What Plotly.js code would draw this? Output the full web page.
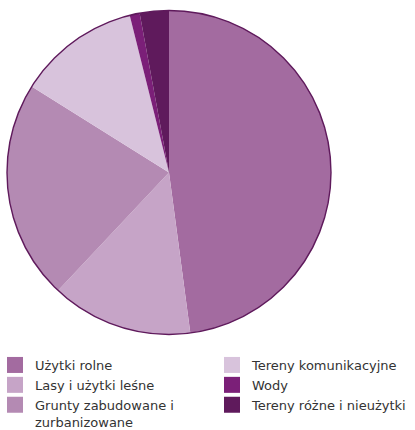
<!DOCTYPE html>
<html>
<head>
<meta charset="utf-8">
<script src="https://cdn.plot.ly/plotly-3.0.1.min.js"></script>
<style>
  html, body { margin: 0; padding: 0; background: #fff; }
  #chart { width: 415px; height: 430px; }
</style>
</head>
<body>
<div id="chart"></div>
<script>
// categories in pie order (clockwise from 12 o'clock)
var labels = ['Użytki rolne', 'Lasy i użytki leśne', 'Grunty zabudowane i<br>zurbanizowane',
              'Tereny komunikacyjne', 'Wody', 'Tereny różne i nieużytki'];
var shares = [47.9, 14.1, 21.9, 12.2, 1.0, 2.9];
var colors = ['#a36ba0', '#c6a4c7', '#b48ab3', '#d8c3dc', '#7b1f78', '#5f1a5c'];

// which legend column each category goes in
var legendCol = ['legend', 'legend', 'legend', 'legend2', 'legend2', 'legend2'];

var pieDomain = {x: [7 / 415, 331 / 415], y: [1 - 334.5 / 430, 1 - 10.5 / 430]};

var data = [{
  type: 'pie',
  labels: labels,
  values: shares,
  sort: false,
  direction: 'clockwise',
  rotation: 0,
  marker: {colors: colors, line: {width: 0}},
  textinfo: 'none',
  hoverinfo: 'label+percent',
  showlegend: false,
  domain: pieDomain
}, {
  // dark rim around the whole pie
  type: 'pie',
  labels: ['rim'],
  values: [1],
  marker: {colors: ['rgba(0,0,0,0)'], line: {color: '#5f1a5c', width: 1.4}},
  textinfo: 'none',
  hoverinfo: 'skip',
  showlegend: false,
  domain: pieDomain
}];

// legend entries (pie slices can't be split across two legend columns)
labels.forEach(function (lab, i) {
  data.push({
    type: 'scatter',
    mode: 'markers',
    x: [null],
    y: [null],
    name: lab,
    legend: legendCol[i],
    marker: {symbol: 'square', size: 16, color: colors[i]},
    showlegend: true
  });
});

var legendBase = {
  orientation: 'v',
  xanchor: 'left',
  y: 1 - 350 / 430,
  yanchor: 'top',
  valign: 'top',
  traceorder: 'normal',
  itemclick: false,
  itemdoubleclick: false,
  bgcolor: 'rgba(0,0,0,0)',
  font: {family: 'DejaVu Sans, sans-serif', size: 13, color: '#333'}
};

var layout = {
  width: 415,
  height: 430,
  margin: {l: 0, r: 0, t: 0, b: 0, autoexpand: false},
  paper_bgcolor: '#fff',
  plot_bgcolor: '#fff',
  xaxis: {visible: false},
  yaxis: {visible: false},
  showlegend: true,
  legend: Object.assign({}, legendBase, {x: -5 / 415}),
  legend2: Object.assign({}, legendBase, {x: 212 / 415}),
  font: {family: 'DejaVu Sans, sans-serif'}
};

Plotly.newPlot('chart', data, layout, {displayModeBar: false, staticPlot: true});
</script>
</body>
</html>
